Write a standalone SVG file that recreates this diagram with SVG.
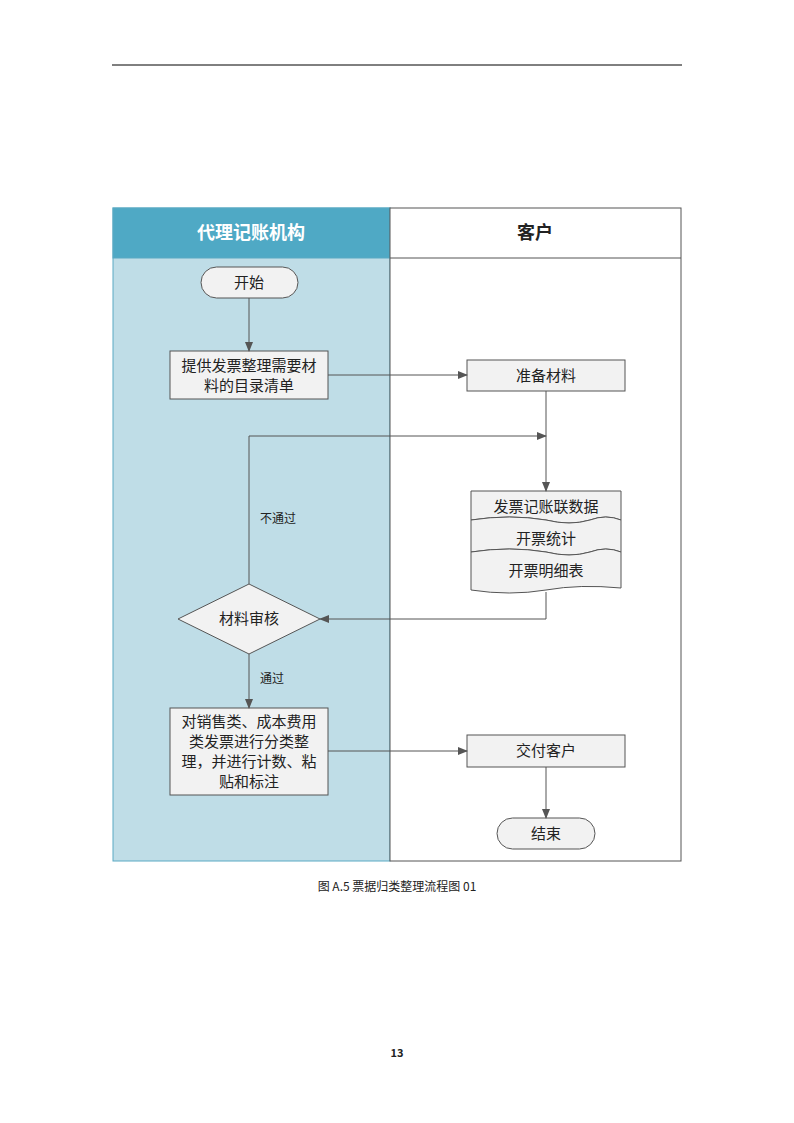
<svg xmlns="http://www.w3.org/2000/svg" width="794" height="1123" viewBox="0 0 794 1123">
<style>
text{font-family:"Noto Sans CJK SC","Liberation Sans",sans-serif;fill:#222}
.t{font-size:15px;text-anchor:middle}
.s{font-size:12px}
.n{fill:#f2f2f2;stroke:#555;stroke-width:1}
.c{fill:none;stroke:#555;stroke-width:1}
</style>
<defs><marker id="a" markerWidth="10" markerHeight="8" refX="9" refY="4" orient="auto" markerUnits="userSpaceOnUse"><path d="M0,0L10,4L0,8z" fill="#555"/></marker></defs>
<line x1="112" y1="65" x2="682" y2="65" stroke="#000" stroke-width="1"/>
<g id="lanes">
<rect x="113" y="208" width="277" height="653" fill="#bfdde7" stroke="#5aa9c3"/>
<rect x="113" y="208" width="277" height="50" fill="#4fa9c5" stroke="#5aa9c3"/>
<rect x="390" y="208" width="291" height="653" fill="#fff" stroke="#555"/>
<line x1="390" y1="258" x2="681" y2="258" stroke="#555"/>
<text x="251" y="239" text-anchor="middle" style="font-size:18px;font-weight:bold;fill:#fff">代理记账机构</text>
<text x="535" y="239" text-anchor="middle" style="font-size:18px;font-weight:bold">客户</text>
</g>
<g id="start"><rect class="n" x="201" y="267" width="97" height="31" rx="15.5"/><text class="t" x="249" y="288">开始</text></g>
<g id="provide"><rect class="n" x="170" y="351" width="158" height="48"/><text class="t" x="249" y="371">提供发票整理需要材</text><text class="t" x="249" y="391">料的目录清单</text></g>
<g id="prepare"><rect class="n" x="467" y="360" width="158" height="31"/><text class="t" x="546" y="381">准备材料</text></g>
<g id="docs">
<path class="n" d="M471,491H621V520Q606,514 590,520Q570,526 546,520Q510,514 471,520Z"/>
<path class="n" d="M471,520Q510,514 546,520Q570,526 590,520Q606,514 621,520V552Q606,546 590,552Q570,558 546,552Q510,546 471,552Z"/>
<path class="n" d="M471,552Q510,546 546,552Q570,558 590,552Q606,546 621,552V588Q580,584 546,590Q510,596 471,590Z"/>
<text class="t" x="546" y="512">发票记账联数据</text><text class="t" x="546" y="544">开票统计</text><text class="t" x="546" y="576">开票明细表</text>
</g>
<g id="review"><path class="n" d="M249,584L320,619L249,654L178,619Z"/><text class="t" x="249" y="624">材料审核</text></g>
<g id="sort"><rect class="n" x="170" y="708" width="158" height="87"/><text class="t" x="249" y="727">对销售类、成本费用</text><text class="t" x="249" y="747">类发票进行分类整</text><text class="t" x="249" y="767">理，并进行计数、粘</text><text class="t" x="249" y="787">贴和标注</text></g>
<g id="deliver"><rect class="n" x="467" y="735" width="158" height="32"/><text class="t" x="546" y="756">交付客户</text></g>
<g id="end"><rect class="n" x="497" y="818" width="98" height="31" rx="15.5"/><text class="t" x="546" y="839">结束</text></g>
<g id="connectors">
<path class="c" marker-end="url(#a)" d="M249,298V351"/>
<path class="c" marker-end="url(#a)" d="M328,375H467"/>
<path class="c" marker-end="url(#a)" d="M546,391V491"/>
<path class="c" marker-end="url(#a)" d="M249,584V436H546"/>
<path class="c" marker-end="url(#a)" d="M546,592V619H320"/>
<path class="c" marker-end="url(#a)" d="M249,654V708"/>
<path class="c" marker-end="url(#a)" d="M328,751H467"/>
<path class="c" marker-end="url(#a)" d="M546,767V818"/>
<text class="s" x="260" y="523">不通过</text>
<text class="s" x="260" y="683">通过</text>
</g>
<text x="397" y="891" text-anchor="middle" style="font-size:12px;font-family:'Noto Sans CJK SC',serif">图 A.5  票据归类整理流程图 01</text>
<text x="397" y="1057" text-anchor="middle" style="font-size:11px;font-weight:bold">13</text>
</svg>
